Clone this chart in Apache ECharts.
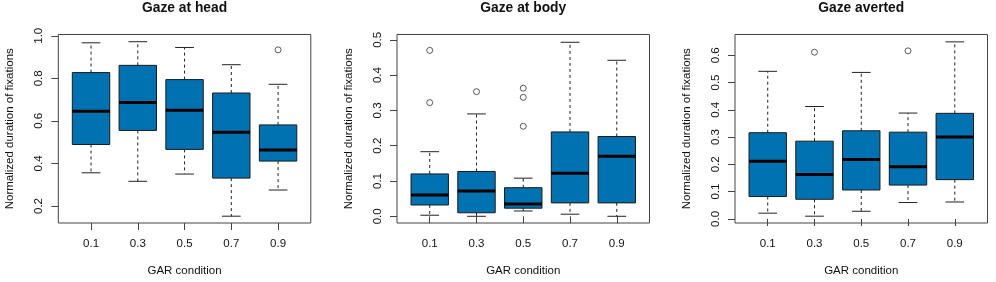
<!DOCTYPE html>
<html lang="en">
<head>
<meta charset="UTF-8">
<title>Normalized duration of fixations by GAR condition</title>
<style>
  html, body {margin: 0; padding: 0; background: #fff;}
  #chart {width: 996px; height: 282px;}
</style>
</head>
<body>
<div id="chart"></div>
<script src="https://cdn.jsdelivr.net/npm/echarts@6/dist/echarts.min.js"></script>
<script>
const categories = ['0.1', '0.3', '0.5', '0.7', '0.9'];

// [lower whisker, Q1, median, Q3, upper whisker] for each GAR condition
const headStats = [
    [0.356, 0.489, 0.645, 0.827, 0.967],
    [0.316, 0.555, 0.686, 0.861, 0.972],
    [0.350, 0.466, 0.650, 0.794, 0.945],
    [0.152, 0.331, 0.547, 0.731, 0.864],
    [0.275, 0.411, 0.463, 0.581, 0.772]
];
// [category index, value]
const headOutliers = [[4, 0.934]];

const bodyStats = [
    [0.003, 0.032, 0.060, 0.120, 0.183],
    [0.000, 0.010, 0.072, 0.127, 0.290],
    [0.015, 0.023, 0.035, 0.081, 0.108],
    [0.006, 0.038, 0.122, 0.239, 0.493],
    [0.000, 0.038, 0.170, 0.226, 0.442]
];
const bodyOutliers = [[0, 0.470], [0, 0.322], [1, 0.353], [2, 0.363], [2, 0.337], [2, 0.255]];

const avertStats = [
    [0.021, 0.082, 0.211, 0.316, 0.541],
    [0.010, 0.072, 0.163, 0.285, 0.412],
    [0.028, 0.106, 0.218, 0.323, 0.537],
    [0.060, 0.124, 0.191, 0.318, 0.388],
    [0.062, 0.144, 0.300, 0.387, 0.649]
];
const avertOutliers = [[1, 0.611], [3, 0.616]];

const titles = ['Gaze at head', 'Gaze at body', 'Gaze averted'];
const yTicks = [
    [0.2, 0.4, 0.6, 0.8, 1.0],
    [0.0, 0.1, 0.2, 0.3, 0.4, 0.5],
    [0.0, 0.1, 0.2, 0.3, 0.4, 0.5, 0.6]
];
const yRanges = [[0.12, 1.006], [-0.019, 0.515], [-0.015, 0.676]];

const panels = [
    {stats: headStats, outliers: headOutliers},
    {stats: bodyStats, outliers: bodyOutliers},
    {stats: avertStats, outliers: avertOutliers}
];

const FONT = '"Liberation Sans", Arial, Helvetica, sans-serif';
const gridLefts = [58.3, 397, 735];
const gridWidth = 252.5;
const gridTop = 34.5;
const gridHeight = 189;
const catPos = [1, 2, 3, 4, 5];

// R-style box: dashed whiskers, half-width staples, thick median
function renderBox(params, api) {
    const x = api.value(0);
    const lo = api.value(1), q1 = api.value(2), med = api.value(3), q3 = api.value(4), hi = api.value(5);
    const half = api.size([0.4, 0])[0];
    const st = half / 2;
    const cx = api.coord([x, med])[0];
    const y = v => api.coord([x, v])[1];
    const dash = {stroke: '#222', lineWidth: 1, lineDash: [3, 3]};
    const solid = {stroke: '#222', lineWidth: 1};
    return {
        type: 'group',
        children: [
            {type: 'line', shape: {x1: cx, y1: y(q3), x2: cx, y2: y(hi)}, style: dash},
            {type: 'line', shape: {x1: cx, y1: y(q1), x2: cx, y2: y(lo)}, style: dash},
            {type: 'line', shape: {x1: cx - st, y1: y(hi), x2: cx + st, y2: y(hi)}, style: solid},
            {type: 'line', shape: {x1: cx - st, y1: y(lo), x2: cx + st, y2: y(lo)}, style: solid},
            {type: 'rect', shape: {x: cx - half, y: y(q3), width: half * 2, height: y(q1) - y(q3)},
                style: {fill: '#0072B2', stroke: '#1a1a1a', lineWidth: 1}},
            {type: 'line', shape: {x1: cx - half, y1: y(med), x2: cx + half, y2: y(med)},
                style: {stroke: '#000', lineWidth: 3}}
        ]
    };
}

const option = {
    animation: false,
    backgroundColor: '#fff',
    title: titles.map((t, i) => ({
        text: t,
        left: gridLefts[i] + gridWidth / 2,
        top: 1,
        textAlign: 'center',
        padding: 0,
        textStyle: {fontSize: 13.8, fontWeight: 'bold', color: '#111', fontFamily: FONT}
    })),
    grid: gridLefts.map(l => ({
        left: l, top: gridTop, width: gridWidth, height: gridHeight,
        show: true, borderColor: '#444', borderWidth: 1, backgroundColor: 'transparent'
    })),
    xAxis: gridLefts.map((l, i) => ({
        gridIndex: i,
        type: 'value',
        min: 0.3,
        max: 5.7,
        splitLine: {show: false},
        axisLine: {show: false},
        axisTick: {show: true, customValues: catPos, length: 7, lineStyle: {color: '#444'}},
        axisLabel: {
            customValues: catPos,
            formatter: v => categories[Math.round(v) - 1],
            margin: 15, fontSize: 11.5, color: '#111', fontFamily: FONT
        },
        name: 'GAR condition',
        nameLocation: 'middle',
        nameGap: 42,
        nameTextStyle: {fontSize: 11.5, color: '#111', fontFamily: FONT}
    })),
    yAxis: yTicks.map((ticks, i) => ({
        gridIndex: i,
        type: 'value',
        min: yRanges[i][0],
        max: yRanges[i][1],
        splitLine: {show: false},
        axisLine: {show: false},
        axisTick: {show: true, customValues: ticks, length: 7, lineStyle: {color: '#444'}},
        axisLabel: {
            customValues: ticks,
            rotate: 90,
            formatter: v => v.toFixed(1),
            margin: 13, fontSize: 11.5, color: '#111', fontFamily: FONT
        },
        name: 'Normalized duration of fixations',
        nameLocation: 'middle',
        nameGap: 42,
        nameTextStyle: {fontSize: 11.5, color: '#111', fontFamily: FONT}
    })),
    series: []
};

panels.forEach((p, i) => {
    option.series.push({
        type: 'custom',
        xAxisIndex: i,
        yAxisIndex: i,
        renderItem: renderBox,
        encode: {x: 0, y: [1, 2, 3, 4, 5]},
        data: p.stats.map((s, k) => [k + 1].concat(s))
    });
    option.series.push({
        type: 'scatter',
        xAxisIndex: i,
        yAxisIndex: i,
        symbol: 'circle',
        symbolSize: 6,
        z: 5,
        itemStyle: {color: '#fff', borderColor: '#333', borderWidth: 1},
        data: p.outliers.map(o => [o[0] + 1, o[1]])
    });
});

const chart = echarts.init(document.getElementById('chart'));
chart.setOption(option);
</script>
</body>
</html>
